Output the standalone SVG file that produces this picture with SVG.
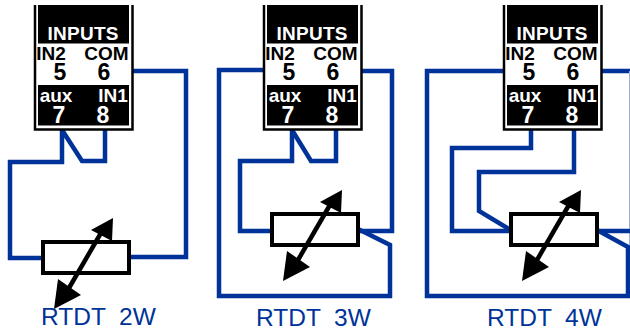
<svg xmlns="http://www.w3.org/2000/svg" width="630" height="331" viewBox="0 0 630 331">
<style>
.w{fill:none;stroke:#003399;stroke-width:4.500;stroke-linejoin:miter}
.res{fill:#fff;stroke:#000;stroke-width:4}
.sh{stroke:#000;stroke-width:4.500;fill:none}
.b{font-family:"Liberation Sans",Arial,sans-serif;font-weight:700;font-size:19px;text-anchor:middle}
.d{font-size:23px}
.wt{fill:#fff}
.k{fill:#000}
.lb{font-family:"Liberation Sans",Arial,sans-serif;font-size:24.500px;fill:#003399}
</style>
<defs>
<g id="box">
<rect x="35" y="5" width="97" height="125" fill="#fff" stroke="none"/>
<path d="M35 5V129.500H132.500V5" fill="none" stroke="#000" stroke-width="2.500"/>
<rect x="38" y="5" width="91" height="38.500" fill="#000"/>
<rect x="38" y="85" width="91" height="40.500" fill="#000"/>
<text class="b wt" x="83" y="40" textLength="71" lengthAdjust="spacing">INPUTS</text>
<text class="b k" x="51" y="60">IN2</text>
<text class="b k" x="106.500" y="60">COM</text>
<text class="b k d" x="60" y="80">5</text>
<text class="b k d" x="104" y="80">6</text>
<text class="b wt" x="56" y="102">aux</text>
<text class="b wt" x="113" y="102">IN1</text>
<text class="b wt d" x="59" y="123">7</text>
<text class="b wt d" x="103" y="123">8</text>
</g>
<g id="rtd">
<rect class="res" x="43" y="242" width="86" height="31"/>
<path class="sh" d="M105 226L69 288"/>
<path d="M113 218L91 230L112 241Z"/>
<path d="M54 309L58 279L81 295Z"/>
</g>
</defs>
<g id="connectors">
<path class="w" d="M121 71H186V257H130"/>
<path class="w" d="M42 258H10V162H62V130L82 161H105V128"/>
<path class="w" d="M281 70H219V296H390V245L358 229"/>
<path class="w" d="M352 71H392V231H358"/>
<path class="w" d="M292 130V161H240V231H271"/>
<path class="w" d="M292 130L311 161H336V128"/>
<path class="w" d="M520 71H427V296H630"/>
<path class="w" d="M591 71H630"/>
<path d="M629.500 71V296" stroke="#9fb0d5" stroke-width="1" fill="none"/>
<path class="w" d="M531 130V148H452V231H509"/>
<path class="w" d="M574 128V172H479V211L509 229"/>
<path class="w" d="M597 231H630"/>
<path class="w" d="M597 230L628 247V296"/>
</g>
<g id="inputs-2w"><use href="#box"/></g>
<g id="inputs-3w"><use href="#box" x="229"/></g>
<g id="inputs-4w"><use href="#box" x="469"/></g>
<g id="rtd-2w"><use href="#rtd"/></g>
<g id="rtd-3w"><use href="#rtd" x="229" y="-28"/></g>
<g id="rtd-4w"><use href="#rtd" x="468" y="-28"/></g>
<g id="labels">
<text class="lb" x="41" y="325" xml:space="preserve">RTDT  2W</text>
<text class="lb" x="256" y="325.500" xml:space="preserve">RTDT  3W</text>
<text class="lb" x="487" y="325.500" xml:space="preserve">RTDT  4W</text>
</g>
</svg>
